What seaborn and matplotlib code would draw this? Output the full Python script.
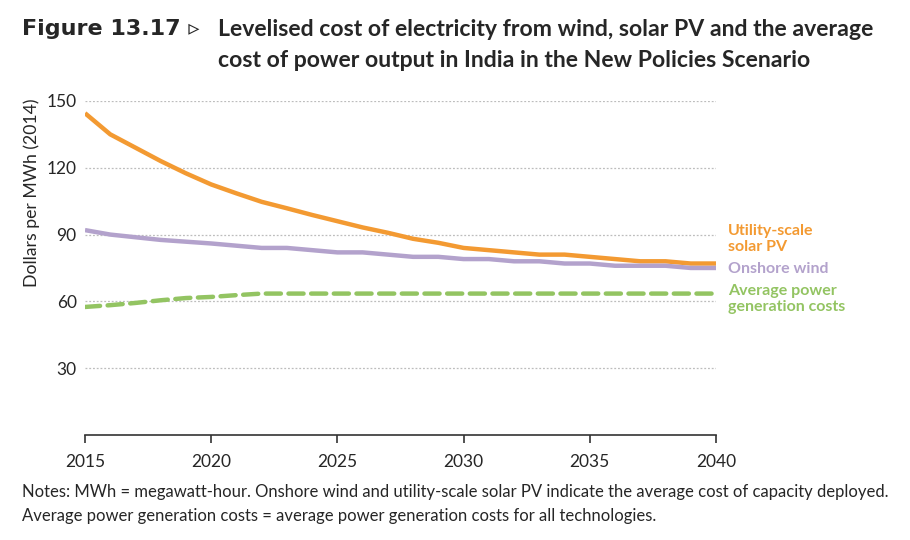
import matplotlib
matplotlib.use("Agg")
import matplotlib.pyplot as plt
import numpy as np
import pandas as pd
import seaborn as sns

years = list(range(2015, 2041))
solar_pv = [144.5, 135.0, 129.0, 123.0, 117.5, 112.5, 108.5, 104.7, 101.8, 98.8,
            96.0, 93.2, 90.8, 88.1, 86.3, 84.0, 83.0, 82.0, 81.0, 81.0,
            80.0, 79.0, 78.0, 78.0, 77.0, 77.0]
onshore_wind = [92.0, 90.0, 88.8, 87.6, 86.8, 86.0, 85.0, 84.0, 84.0, 83.0,
                82.0, 82.0, 81.0, 80.0, 80.0, 79.0, 79.0, 78.0, 78.0, 77.0,
                77.0, 76.0, 76.0, 76.0, 75.0, 75.0]
avg_power = [57.5, 58.3, 59.3, 60.5, 61.5, 62.0, 62.8, 63.5, 63.5, 63.5,
             63.5, 63.5, 63.5, 63.5, 63.5, 63.5, 63.5, 63.5, 63.5, 63.5,
             63.5, 63.5, 63.5, 63.5, 63.5, 63.5]

series_names = ["Utility-scale solar PV", "Onshore wind", "Average power generation costs"]
series_labels = ["Utility-scale\nsolar PV", "Onshore wind", "Average power\ngeneration costs"]
colors = ["#F39A32", "#B3A2CC", "#93C462"]
y_ticks = [30, 60, 90, 120, 150]
x_ticks = [2015, 2020, 2025, 2030, 2035, 2040]

df = pd.DataFrame({
    "year": years * 3,
    "value": solar_pv + onshore_wind + avg_power,
    "series": np.repeat(series_names, len(years)),
})

sns.set_theme(style="white")
plt.rcParams["font.family"] = ["Lato", "DejaVu Sans"]

fig = plt.figure(figsize=(9.1, 5.4), dpi=100)
ax = fig.add_axes([0.0934, 0.1944, 0.6934, 0.6187])

for y in y_ticks:
    ax.axhline(y, color="#BDBDBD", lw=0.9, ls=(0, (1.5, 1.5)), zorder=0)

sns.lineplot(
    data=df, x="year", y="value", hue="series", style="series",
    hue_order=series_names, style_order=series_names,
    palette=dict(zip(series_names, colors)),
    dashes={series_names[0]: "", series_names[1]: "",
            series_names[2]: (3.4, 1.7)},
    lw=3.2, legend=False, ax=ax,
)
for line in ax.get_lines()[-3:]:
    line.set_dash_capstyle("round")
    line.set_solid_capstyle("butt")

ax.set_xlim(2015, 2040)
ax.set_ylim(0, 150)
ax.set_xticks(x_ticks)
ax.set_yticks(y_ticks)
ax.tick_params(axis="x", length=6, width=1.2, color="#333333", direction="out",
               labelsize=12.5, pad=8, bottom=True)
ax.tick_params(axis="y", length=0, labelsize=12.5, pad=6)
ax.set_xlabel("")
ax.set_ylabel("")
for side in ["top", "right", "left"]:
    ax.spines[side].set_visible(False)
ax.spines["bottom"].set_color("#333333")
ax.spines["bottom"].set_linewidth(1.2)

fig.text(0.035, 1 - 193 / 540, "Dollars per MWh (2014)", rotation=90,
         ha="center", va="center", fontsize=12.7)

# right-hand labels
label_y = [239, 269, 299]
for txt, col, py in zip(series_labels, colors, label_y):
    fig.text(728 / 910, 1 - py / 540, txt, color=col, fontsize=11.5,
             fontweight="bold", ha="left", va="center", linespacing=1.15)

# title
fig.text(22 / 910, 1 - 29 / 540, "Figure 13.17 \u25B9", fontsize=16,
         fontweight="heavy", ha="left", va="center",
         family=["DejaVu Sans"])
fig.text(218 / 910, 1 - 45 / 540,
         "Levelised cost of electricity from wind, solar PV and the average\n"
         "cost of power output in India in the New Policies Scenario",
         fontsize=16.6, fontweight="bold", ha="left", va="center",
         linespacing=1.6)

# notes
fig.text(22 / 910, 1 - 492 / 540,
         "Notes: MWh = megawatt-hour. Onshore wind and utility-scale solar PV "
         "indicate the average cost of capacity deployed.",
         fontsize=12, ha="left", va="center")
fig.text(22 / 910, 1 - 516 / 540,
         "Average power generation costs = average power generation costs "
         "for all technologies.",
         fontsize=12, ha="left", va="center")

fig.savefig("out.png", dpi=100)
plt.close(fig)
